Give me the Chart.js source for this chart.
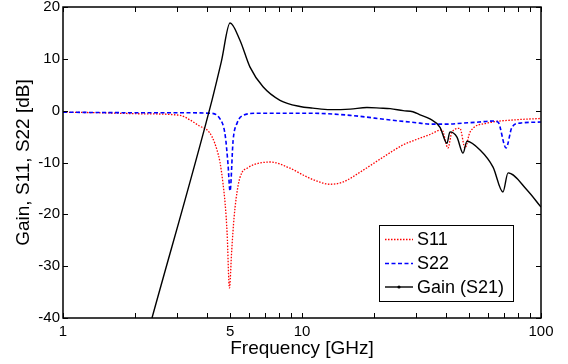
<!DOCTYPE html>
<html>
<head>
<meta charset="utf-8">
<script src="https://cdn.jsdelivr.net/npm/chart.js@4/dist/chart.umd.min.js"></script>
<style>
  html, body { margin: 0; padding: 0; background: #ffffff; }
  canvas { display: block; }
</style>
</head>
<body>
<canvas id="c" width="568" height="364"></canvas>
<script>
// ---- data ----
const s11Freq = [1, 1.43, 2.10, 3.09, 3.40, 3.74, 4.00, 4.20, 4.41, 4.54, 4.67, 4.77, 4.86, 4.97, 5.08, 5.20, 5.40, 5.60, 5.89, 6.30, 6.67, 7.35, 8.91, 10.5, 11.9, 13.1, 14.8, 18.0, 21.8, 26.5, 31.2, 34.3, 38.5, 40.8, 42.4, 45.8, 48.1, 50.5, 59.4, 76.4, 100];
const s11Vals = [-0.3, -0.4, -0.6, -0.9, -1.8, -3.0, -3.7, -5.0, -7.6, -10.0, -14.0, -18.0, -23.6, -34.2, -27.0, -20.5, -14.5, -12.0, -11.1, -10.4, -10.1, -9.9, -11.1, -12.8, -13.8, -14.2, -13.8, -11.5, -9.0, -6.6, -5.3, -4.6, -3.7, -7.2, -4.1, -3.4, -7.2, -4.1, -2.4, -1.8, -1.5];

const s22Freq = [1, 2.10, 3.00, 4.12, 4.54, 4.77, 4.90, 5.00, 5.15, 5.35, 5.67, 6.47, 8.91, 10.8, 15.9, 23.4, 31.2, 34.3, 40.4, 47.2, 55.0, 63.0, 66.1, 71.4, 75.6, 81.7, 100];
const s22Vals = [-0.3, -0.4, -0.4, -0.5, -1.6, -4.7, -10.2, -15.5, -5.7, -2.4, -0.9, -0.5, -0.5, -0.5, -0.9, -1.8, -2.4, -2.6, -2.6, -2.4, -2.2, -2.0, -2.2, -7.2, -3.2, -2.4, -2.2];

const gainFreq = [2.357, 4.20, 4.60, 5.00, 5.50, 6.06, 6.87, 8.09, 9.81, 11.1, 13.1, 15.9, 18.7, 21.2, 23.4, 26.5, 29.1, 31.2, 34.3, 37.8, 40.4, 41.6, 44.5, 47.2, 49.0, 55.6, 63.0, 69.3, 72.8, 87.4, 100];
const gainVals = [-40, 2.0, 9.5, 16.9, 13.6, 8.4, 4.6, 2.0, 0.8, 0.5, 0.2, 0.3, 0.6, 0.5, 0.4, 0.0, -0.2, -0.8, -1.6, -3.2, -6.3, -4.1, -5.1, -8.2, -5.9, -7.6, -10.9, -15.7, -12.0, -15.3, -18.6];

const xTickValues = [1, 2, 3, 4, 5, 6, 7, 8, 9, 10, 20, 30, 40, 50, 60, 70, 80, 90, 100];
const xTickLabels = [1, 5, 10, 100];
const yTickValues = [-40, -30, -20, -10, 0, 10, 20];

const seriesNames = ['S11', 'S22', 'Gain (S21)'];
// --------------------------------------

const toXY = (fs, vs) => fs.map((f, i) => ({ x: f, y: vs[i] }));
const FONT = "'Liberation Sans', Arial, sans-serif";

const styles = [
  { color: '#ff0000', width: 1.3, dash: [1.5, 1.5] },
  { color: '#0000ff', width: 1.6, dash: [4, 2.5] },
  { color: '#000000', width: 1.4, dash: [] }
];

const frameAndLegend = {
  id: 'frameAndLegend',
  afterDatasetsDraw(chart) {
    const ctx = chart.ctx;
    const a = chart.chartArea;
    const xs = chart.scales.x, ys = chart.scales.y;
    ctx.save();
    // ticks (inward, all four sides)
    ctx.strokeStyle = '#000';
    ctx.lineWidth = 1;
    ctx.setLineDash([]);
    const tl = 5;
    xTickValues.forEach(v => {
      const px = Math.round(xs.getPixelForValue(v)) + 0.5;
      ctx.beginPath();
      ctx.moveTo(px, a.bottom); ctx.lineTo(px, a.bottom - tl);
      ctx.moveTo(px, a.top); ctx.lineTo(px, a.top + tl);
      ctx.stroke();
    });
    yTickValues.forEach(v => {
      const py = Math.round(ys.getPixelForValue(v)) + 0.5;
      ctx.beginPath();
      ctx.moveTo(a.left, py); ctx.lineTo(a.left + tl, py);
      ctx.moveTo(a.right, py); ctx.lineTo(a.right - tl, py);
      ctx.stroke();
    });
    // box
    ctx.lineWidth = 1.5;
    ctx.strokeRect(a.left, a.top, a.right - a.left, a.bottom - a.top);

    // legend
    const lx = 379.5, ly = 225.5, lw = 134, lh = 76;
    ctx.fillStyle = '#fff';
    ctx.fillRect(lx, ly, lw, lh);
    ctx.lineWidth = 1;
    ctx.strokeStyle = '#000';
    ctx.strokeRect(lx, ly, lw, lh);
    const rows = [239.5, 263.5, 287];
    ctx.font = '18px ' + FONT;
    ctx.textBaseline = 'middle';
    ctx.textAlign = 'left';
    seriesNames.forEach((name, i) => {
      const st = styles[i];
      ctx.strokeStyle = st.color;
      ctx.lineWidth = st.width;
      ctx.setLineDash(st.dash);
      ctx.beginPath();
      ctx.moveTo(385, rows[i]);
      ctx.lineTo(413, rows[i]);
      ctx.stroke();
      ctx.setLineDash([]);
      if (i === 2) {
        ctx.fillStyle = '#000';
        ctx.beginPath();
        ctx.arc(399, rows[i], 1.6, 0, Math.PI * 2);
        ctx.fill();
      }
      ctx.fillStyle = '#000';
      ctx.fillText(name, 417, rows[i] + 1);
    });
    ctx.restore();
  }
};

new Chart(document.getElementById('c'), {
  type: 'line',
  data: {
    datasets: [
      { label: seriesNames[0], data: toXY(s11Freq, s11Vals), borderColor: styles[0].color, borderWidth: styles[0].width, borderDash: styles[0].dash, order: 2 },
      { label: seriesNames[1], data: toXY(s22Freq, s22Vals), borderColor: styles[1].color, borderWidth: styles[1].width, borderDash: styles[1].dash, order: 1 },
      { label: seriesNames[2], data: toXY(gainFreq, gainVals), borderColor: styles[2].color, borderWidth: styles[2].width, order: 0 }
    ]
  },
  options: {
    responsive: false,
    devicePixelRatio: 1,
    animation: false,
    events: [],
    datasets: { line: { pointRadius: 0, fill: false, cubicInterpolationMode: 'monotone', borderCapStyle: 'butt' } },
    layout: { padding: { top: 7, right: 27, left: 0, bottom: 0 } },
    plugins: { legend: { display: false }, tooltip: { enabled: false } },
    scales: {
      x: {
        type: 'logarithmic',
        min: 1, max: 100,
        grid: { display: false, drawTicks: false },
        border: { display: false },
        afterBuildTicks: s => { s.ticks = xTickValues.map(v => ({ value: v })); },
        afterFit: s => { s.height = 46; s.paddingLeft = 0; s.paddingRight = 0; },
        ticks: {
          autoSkip: false, maxRotation: 0, minRotation: 0, padding: 5,
          color: '#000', font: { family: FONT, size: 15 },
          callback: v => xTickLabels.includes(v) ? String(v) : ''
        },
        title: { display: true, text: 'Frequency [GHz]', color: '#000', font: { family: FONT, size: 19 }, padding: { top: 0, bottom: 4 } }
      },
      y: {
        min: -40, max: 20,
        grid: { display: false, drawTicks: false },
        border: { display: false },
        afterBuildTicks: s => { s.ticks = yTickValues.map(v => ({ value: v })); },
        afterFit: s => { s.width = 63; s.paddingTop = 0; s.paddingBottom = 0; },
        ticks: { padding: 3, color: '#000', font: { family: FONT, size: 15 } },
        title: { display: true, text: 'Gain, S11, S22 [dB]', color: '#000', font: { family: FONT, size: 19 }, padding: { top: 12, bottom: 0 } }
      }
    }
  },
  plugins: [frameAndLegend]
});
</script>
</body>
</html>
